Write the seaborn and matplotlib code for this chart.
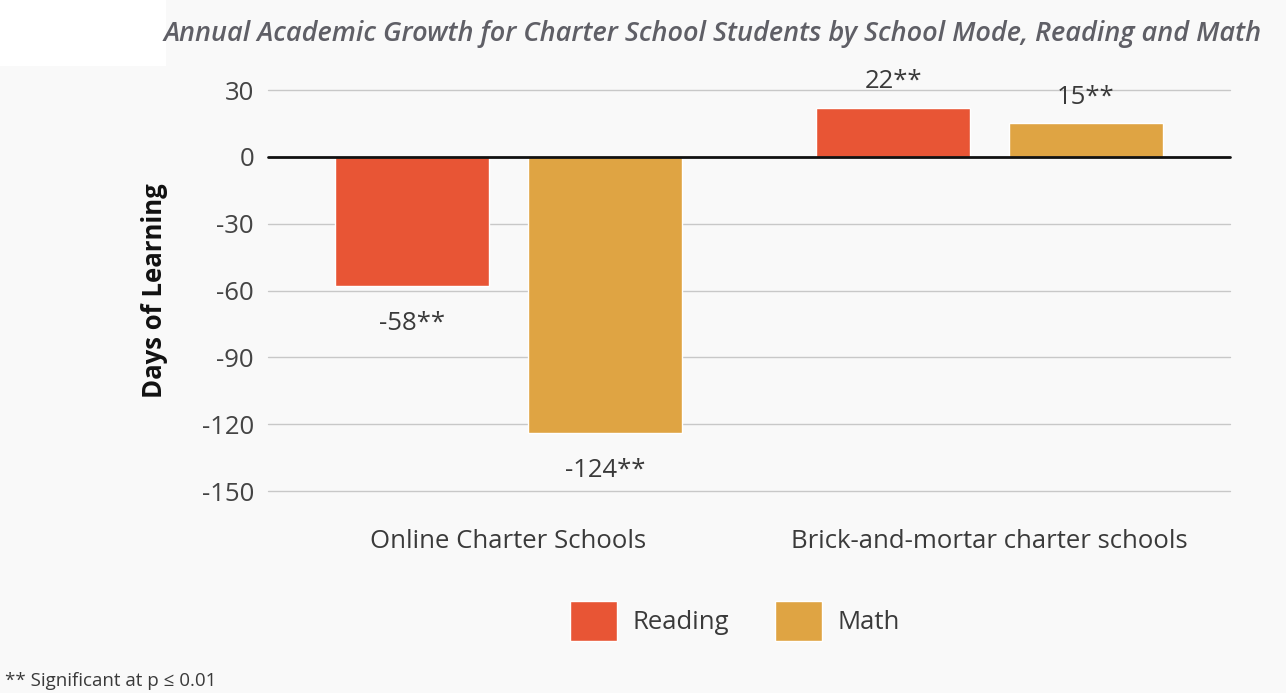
import matplotlib
matplotlib.use("Agg")
import matplotlib.pyplot as plt
import seaborn as sns
import pandas as pd
from matplotlib.patches import Rectangle

categories = ["Online Charter Schools", "Brick-and-mortar charter schools"]
subjects = ["Reading", "Math"]
reading = [-58, 22]
math_vals = [-124, 15]
yticks = [30, 0, -30, -60, -90, -120, -150]

df = pd.DataFrame({
    "School": categories * 2,
    "Subject": ["Reading"] * 2 + ["Math"] * 2,
    "Days": reading + math_vals,
})

sns.set_theme(style="white")
plt.rcParams["font.family"] = ["Open Sans", "DejaVu Sans"]

bg = "#f9f9f9"
txtc = "#3a3a3a"
fs = 18.5
fig = plt.figure(figsize=(12.86, 6.93), dpi=100, facecolor=bg)
fig.patches.append(Rectangle((0, 1 - 66 / 693), 166 / 1286, 66 / 693,
                             transform=fig.transFigure, facecolor="white",
                             edgecolor="none", zorder=0))
ax = fig.add_axes([268 / 1286, 1 - 491 / 693, 962 / 1286, 401 / 693])
ax.set_facecolor(bg)

palette = {"Reading": "#e85535", "Math": "#dfa443"}
sns.barplot(data=df, x="School", y="Days", hue="Subject", hue_order=subjects,
            order=categories, palette=palette, gap=0.2, width=0.8,
            saturation=1, ax=ax, zorder=3, legend=True)

for cont, vals in zip(ax.containers, [reading, math_vals]):
    neg = [f"{v}**" if v < 0 else "" for v in vals]
    pos = [f"{v}**" if v >= 0 else "" for v in vals]
    ax.bar_label(cont, labels=neg, padding=18, fontsize=fs, color=txtc)
    ax.bar_label(cont, labels=pos, padding=10, fontsize=fs, color=txtc)

ax.set_ylim(-150, 30)
ax.set_xlim(-0.5, 1.5)
ax.set_yticks(yticks)
ax.set_yticklabels([str(t) for t in yticks])
ax.tick_params(axis="y", length=0, labelsize=fs, labelcolor="#444444", pad=10)
ax.tick_params(axis="x", length=0, labelsize=fs, labelcolor=txtc, pad=27)
for t in yticks:
    if t != 0:
        ax.axhline(t, color="#c8c8c8", lw=1, zorder=1, clip_on=False)
ax.axhline(0, color="#111111", lw=2, zorder=4, clip_on=False)
for s in ax.spines.values():
    s.set_visible(False)
ax.set_xlabel("")
ax.set_ylabel("Days of Learning", fontsize=18.5, fontweight="bold",
              color="#111111", labelpad=24)

leg = ax.legend(loc="center", bbox_to_anchor=(735 / 1286, 1 - 621 / 693),
                bbox_transform=fig.transFigure, ncol=2, frameon=False,
                fontsize=fs, handlelength=1.83, handleheight=2.0,
                columnspacing=1.8, handletextpad=0.58, title=None)
for txt in leg.get_texts():
    txt.set_color(txtc)

fig.text(1262 / 1286, 1 - 34 / 693,
         "Annual Academic Growth for Charter School Students by School Mode, Reading and Math",
         ha="right", va="center", fontsize=19.5, fontstyle="italic",
         fontweight="semibold", color="#5f5f66")
fig.text(5 / 1286, 1 - 681 / 693, "** Significant at p \u2264 0.01",
         ha="left", va="center", fontsize=13.5, color=txtc)

fig.savefig("out.png", dpi=100, facecolor=bg)
